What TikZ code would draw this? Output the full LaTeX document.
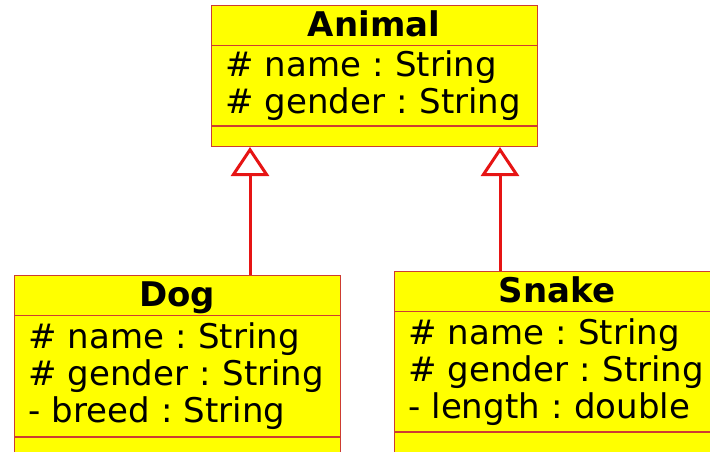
\documentclass[tikz,border=0pt]{standalone}
\usepackage{fontspec}
\setmainfont{DejaVu Sans}
\usetikzlibrary{arrows.meta, positioning}

\definecolor{classyellow}{RGB}{255,255,0}
\definecolor{boxred}{RGB}{205,60,50}
\definecolor{arrowred}{RGB}{230,20,20}

\begin{document}
\begin{tikzpicture}[x=1pt, y=1pt,
  classname/.style={draw=boxred, fill=classyellow, line width=0.8pt, minimum width=326pt,
    minimum height=40pt, inner sep=0pt, text height=23pt, text depth=0pt,
    font=\fontsize{34}{37}\selectfont\bfseries},
  classattr/.style={draw=boxred, fill=classyellow, line width=0.8pt, inner xsep=14pt,
    inner ysep=0pt, text width=298pt, align=left,
    font=\fontsize{34}{37}\selectfont\frenchspacing},
  classops/.style={draw=boxred, fill=classyellow, line width=0.8pt, minimum width=326pt,
    minimum height=20pt, inner sep=0pt},
  inherit/.style={draw=arrowred, line width=3pt, -{Triangle[open, length=29pt, width=38pt]}}]

\useasboundingbox (0,0) rectangle (710,-451);

% superclass
\node[classname] (animal) at (374,-25) {Animal};
\node[classattr, minimum height=80pt] (animalattr) [below=0pt of animal]
  {\# name : String\\\# gender : String};
\node[classops] (animalops) [below=0pt of animalattr] {};

% subclasses
\node[classname] (dog) at (177,-295) {Dog};
\node[classattr, minimum height=121pt] (dogattr) [below=0pt of dog]
  {\# name : String\\\# gender : String\\- breed : String};
\node[classops] (dogops) [below=0pt of dogattr] {};

\node[classname] (snake) at (557,-291) {Snake};
\node[classattr, minimum height=120pt] (snakeattr) [below=0pt of snake]
  {\# name : String\\\# gender : String\\- length : double};
\node[classops] (snakeops) [below=0pt of snakeattr] {};

% generalization
\draw[inherit] ([xshift=73pt]dog.north) -- ([xshift=73pt]dog.north |- animalops.south);
\draw[inherit] ([xshift=-57pt]snake.north) -- ([xshift=-57pt]snake.north |- animalops.south);

\end{tikzpicture}
\end{document}
